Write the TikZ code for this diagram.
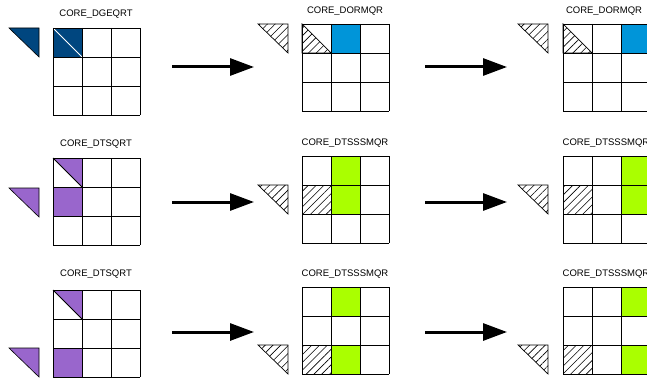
\documentclass[tikz,border=0pt]{standalone}
\usepackage{fontspec}
\setmainfont{Liberation Sans}
\usetikzlibrary{arrows.meta,patterns.meta}
\definecolor{qrblue}{HTML}{00467F}
\definecolor{upblue}{HTML}{0095D9}
\definecolor{tspurple}{HTML}{9966CC}
\definecolor{upgreen}{HTML}{AAFF00}
% 3x3 tile grid, top left corner at (#1,#2)
\def\tilegrid(#1,#2){\foreach \k in {0,1,2,3}{
    \draw[gridline] (#1+29*\k,#2) -- ++(0,87);
    \draw[gridline] (#1,#2+29*\k) -- ++(87,0);}}

\begin{document}
\begin{tikzpicture}[x=1pt,y=-1pt,
    gridline/.style={line width=0.9pt},
    hatch/.style={line width=0.7pt,pattern={Lines[angle=45,distance=5.5pt,line width=0.6pt]}},
    title/.style={font=\fontsize{9.5}{9.5}\selectfont,inner sep=0pt},
    flow/.style={line width=3pt,-{Triangle[length=24pt,width=17pt]}}]
	\useasboundingbox (0,0) rectangle (647,377);

	%%%%% ROW 1 %%%%%
	\node[title] (t11) at (96,14) {CORE\_DGEQRT};
	\fill[qrblue] (53,28) rectangle ++(29,29);
	\draw[white,line width=0.8pt] (53,28) -- ++(29,29);
	\tilegrid(53,28)
	\filldraw[fill=qrblue,line width=0.6pt] (9,28) -- (39,28) -- (39,57) -- cycle;

	\node[title] (t12) at (345,11) {CORE\_DORMQR};
	\fill[upblue] (331,24) rectangle ++(29,29);
	\draw[hatch] (302,24) -- (302,53) -- (331,53) -- cycle;
	\tilegrid(302,24)
	\draw[hatch] (258,24) -- (288,24) -- (288,53) -- cycle;

	\node[title] (t13) at (604,11) {CORE\_DORMQR};
	\fill[upblue] (621,24) rectangle ++(29,29);
	\draw[hatch] (563,24) -- (563,53) -- (592,53) -- cycle;
	\tilegrid(563,24)
	\draw[hatch] (518,24) -- (548,24) -- (548,53) -- cycle;

	\coordinate (a11) at (172,67); \coordinate (b11) at (254,67);
	\coordinate (a12) at (425,67); \coordinate (b12) at (507,67);
	\draw[flow] (a11) -- (b11);
	\draw[flow] (a12) -- (b12);

	%%%%% ROW 2 %%%%%
	\node[title] (t21) at (96,144) {CORE\_DTSQRT};
	\fill[tspurple] (53,158) -- ++(29,0) -- ++(0,29) -- cycle;
	\fill[tspurple] (53,187) rectangle ++(29,29);
	\draw[line width=0.8pt] (53,158) -- ++(29,29);
	\tilegrid(53,158)
	\filldraw[fill=tspurple,line width=0.6pt] (9,188) -- (39,188) -- (39,217) -- cycle;

	\node[title] (t22) at (345,143) {CORE\_DTSSSMQR};
	\fill[upgreen] (331,156) rectangle ++(29,58);
	\draw[hatch] (302,185) rectangle ++(29,29);
	\tilegrid(302,156)
	\draw[hatch] (258,185) -- (288,185) -- (288,214) -- cycle;

	\node[title] (t23) at (606,143) {CORE\_DTSSSMQR};
	\fill[upgreen] (621,156) rectangle ++(29,58);
	\draw[hatch] (563,185) rectangle ++(29,29);
	\tilegrid(563,156)
	\draw[hatch] (518,185) -- (548,185) -- (548,214) -- cycle;

	\coordinate (a21) at (172,202); \coordinate (b21) at (254,202);
	\coordinate (a22) at (425,202); \coordinate (b22) at (507,202);
	\draw[flow] (a21) -- (b21);
	\draw[flow] (a22) -- (b22);

	%%%%% ROW 3 %%%%%
	\node[title] (t31) at (96,274) {CORE\_DTSQRT};
	\fill[tspurple] (53,290) -- ++(29,0) -- ++(0,29) -- cycle;
	\fill[tspurple] (53,348) rectangle ++(29,29);
	\draw[line width=0.8pt] (53,290) -- ++(29,29);
	\tilegrid(53,290)
	\filldraw[fill=tspurple,line width=0.6pt] (9,348) -- (39,348) -- (39,377) -- cycle;

	\node[title] (t32) at (345,274) {CORE\_DTSSSMQR};
	\fill[upgreen] (331,287) rectangle ++(29,29);
	\fill[upgreen] (331,345) rectangle ++(29,29);
	\draw[hatch] (302,345) rectangle ++(29,29);
	\tilegrid(302,287)
	\draw[hatch] (258,345) -- (288,345) -- (288,374) -- cycle;

	\node[title] (t33) at (606,274) {CORE\_DTSSSMQR};
	\fill[upgreen] (621,287) rectangle ++(29,29);
	\fill[upgreen] (621,345) rectangle ++(29,29);
	\draw[hatch] (563,345) rectangle ++(29,29);
	\tilegrid(563,287)
	\draw[hatch] (518,345) -- (548,345) -- (548,374) -- cycle;

	\coordinate (a31) at (172,332); \coordinate (b31) at (254,332);
	\coordinate (a32) at (425,332); \coordinate (b32) at (507,332);
	\draw[flow] (a31) -- (b31);
	\draw[flow] (a32) -- (b32);
\end{tikzpicture}
\end{document}
